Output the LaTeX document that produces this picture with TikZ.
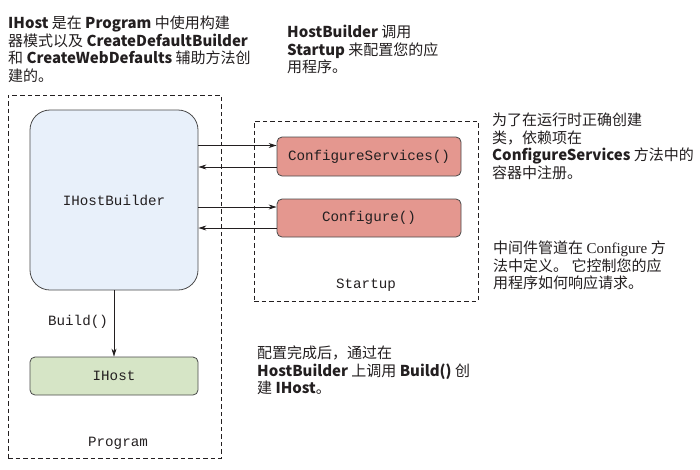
\documentclass[tikz,border=0pt]{standalone}
\usepackage{fontspec}
\setmainfont{Noto Sans CJK SC}
\setmonofont{Liberation Mono}
\newfontfamily\serifla{Liberation Serif}
\usetikzlibrary{arrows.meta,calc}
\definecolor{ink}{HTML}{231F20}
\definecolor{bluefill}{HTML}{E8F0FA}
\definecolor{salmon}{HTML}{E4978F}
\definecolor{greenfill}{HTML}{D6E5C6}
\definecolor{edge}{HTML}{4A4A4A}
\tikzset{
  note/.style={anchor=north west, align=left, inner sep=0pt, text=ink,
    font=\fontsize{15}{17.4}\selectfont},
  codebox/.style={draw=edge, line width=0.8pt, rounded corners=5pt,
    font=\ttfamily\fontsize{14.2}{15}\selectfont, text=ink, inner sep=0pt},
  dashbox/.style={draw=ink, dashed, line width=0.8pt, inner sep=0pt,
    dash pattern=on 4.5pt off 3pt},
  lbl/.style={font=\ttfamily\fontsize{14.2}{15}\selectfont, text=ink, inner sep=0pt},
  arr/.style={draw=ink, line width=0.8pt, -{Stealth[length=8pt,width=5pt]}}
}
\begin{document}
\begin{tikzpicture}[x=1pt,y=-1pt]
\useasboundingbox (0,0) rectangle (700,469);
% dashed containers
\node[dashbox, minimum width=213pt, minimum height=363pt] (program) at (114.5,276.5) {};
\node[dashbox, minimum width=224pt, minimum height=180pt] (startup) at (366,211) {};
% boxes
\node[codebox, fill=bluefill, rounded corners=20pt, minimum width=168pt, minimum height=180pt] (ihb) at (114,200) {IHostBuilder};
\node[codebox, fill=salmon, minimum width=184pt, minimum height=39pt] (cs) at (369,156.5) {ConfigureServices()};
\node[codebox, fill=salmon, minimum width=184pt, minimum height=38pt] (cfg) at (369,218) {Configure()};
\node[codebox, fill=greenfill, minimum width=168pt, minimum height=38pt] (ihost) at (114,376) {IHost};
% labels
\node[lbl] (startuplbl) at (366,285) {Startup};
\node[lbl] (programlbl) at (118,443) {Program};
\node[lbl] (buildlbl) at (78,322) {Build()};
% connectors
\coordinate (cs1) at ($(cs.west)+(0,-11)$);
\coordinate (cs2) at ($(cs.west)+(0,10.5)$);
\coordinate (cf1) at ($(cfg.west)+(0,-11)$);
\coordinate (cf2) at ($(cfg.west)+(0,10)$);
\draw[arr] (ihb.east |- cs1) -- (cs1);
\draw[arr] (cs2) -- (ihb.east |- cs2);
\draw[arr] (ihb.east |- cf1) -- (cf1);
\draw[arr] (cf2) -- (ihb.east |- cf2);
\draw[arr] (ihb.south) -- (ihost.north);
% notes
\node[note] (n1) at (8,16) {\textbf{IHost} 是在 \textbf{Program} 中使用构建\\器模式以及 \textbf{CreateDefaultBuilder}\\和 \textbf{CreateWebDefaults} 辅助方法创\\建的。};
\node[note] (n2) at (287,25) {\textbf{HostBuilder} 调用\\\textbf{Startup} 来配置您的应\\用程序。};
\node[note] (n3) at (492,113) {为了在运行时正确创建\\类，依赖项在\\\textbf{ConfigureServices} 方法中的\\容器中注册。};
\node[note] (n4) at (493,241) {中间件管道在 {\serifla Configure} 方\\法中定义。 它控制您的应\\用程序如何响应请求。};
\node[note] (n5) at (257,346) {配置完成后，通过在\\\textbf{HostBuilder} 上调用 \textbf{Build()} 创\\建 \textbf{IHost}。};
\end{tikzpicture}
\end{document}
